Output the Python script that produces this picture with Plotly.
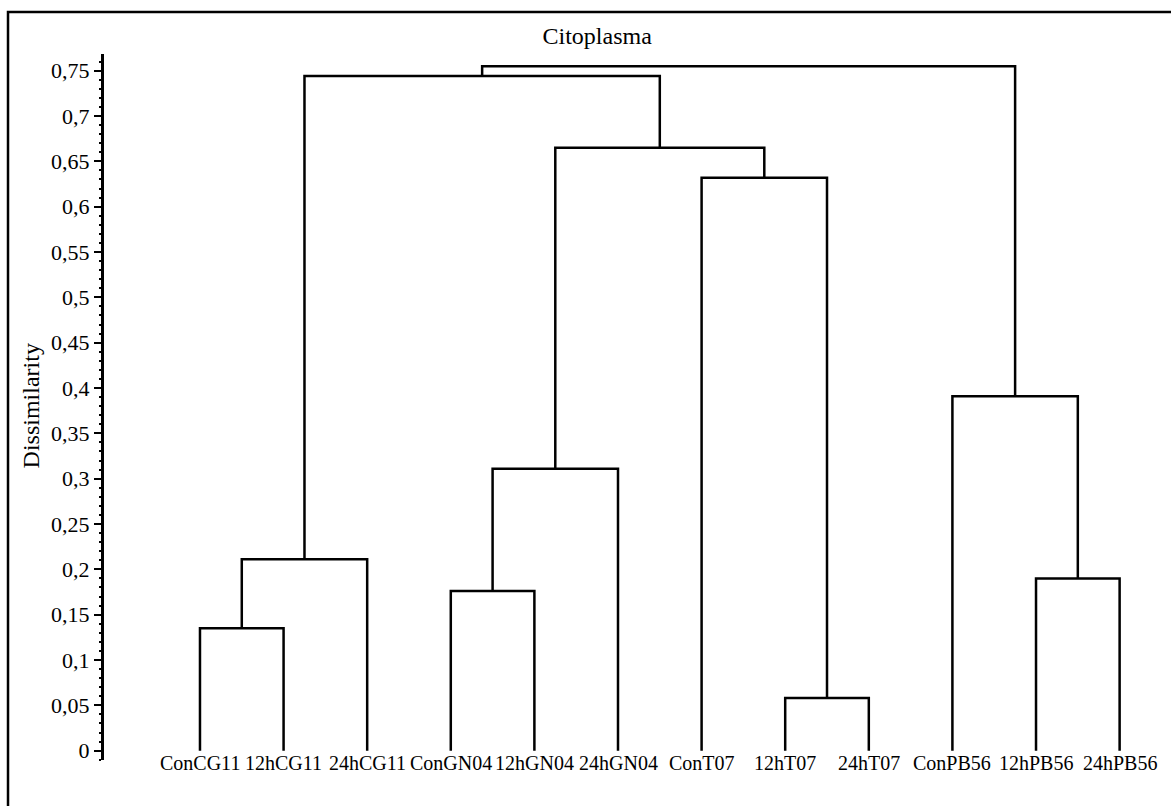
import plotly.graph_objects as go

# Leaves in dendrogram order
leaves = ["ConCG11", "12hCG11", "24hCG11", "ConGN04", "12hGN04", "24hGN04",
          "ConT07", "12hT07", "24hT07", "ConPB56", "12hPB56", "24hPB56"]

# Agglomeration steps: (left child, right child) with their dissimilarity level.
# Indices < 12 are leaves; index 12 + k is the cluster formed at step k.
merge_left = [0, 12, 3, 14, 7, 6, 15, 13, 10, 9, 19]
merge_right = [1, 2, 4, 5, 8, 16, 17, 18, 11, 20, 21]
merge_height = [0.135, 0.211, 0.176, 0.311, 0.058, 0.632, 0.665, 0.744, 0.190, 0.391, 0.755]

# Y-axis ticks
tick_vals = [0, 0.05, 0.1, 0.15, 0.2, 0.25, 0.3, 0.35, 0.4, 0.45, 0.5, 0.55, 0.6, 0.65, 0.7, 0.75]
tick_text = ["0", "0,05", "0,1", "0,15", "0,2", "0,25", "0,3", "0,35", "0,4", "0,45",
             "0,5", "0,55", "0,6", "0,65", "0,7", "0,75"]

FONT = "Liberation Serif"
n = len(leaves)

# Node positions: leaves at their order index, clusters at the midpoint of children
pos = {i: float(i) for i in range(n)}
lev = {i: 0.0 for i in range(n)}
xs, ys = [], []
for k, (a, b, h) in enumerate(zip(merge_left, merge_right, merge_height)):
    xs += [pos[a], pos[a], pos[b], pos[b], None]
    ys += [lev[a], h, h, lev[b], None]
    pos[n + k] = (pos[a] + pos[b]) / 2
    lev[n + k] = h

fig = go.Figure()
fig.add_trace(go.Scatter(x=xs, y=ys, mode="lines",
                         line=dict(color="black", width=2.5),
                         hoverinfo="skip", showlegend=False))

# Leaf labels under each branch
for i, name in enumerate(leaves):
    fig.add_annotation(x=i, y=0, xref="x", yref="y", text=name, showarrow=False,
                       yanchor="top", xanchor="center", yshift=1,
                       font=dict(family=FONT, size=20, color="black"))

# Axis title
fig.add_annotation(x=-0.069, y=0.501, xref="paper", yref="paper", text="Dissimilarity",
                   textangle=-90, showarrow=False, xanchor="center", yanchor="middle",
                   font=dict(family=FONT, size=24, color="black"))

# Outer frame
fig.add_shape(type="rect", xref="paper", yref="paper",
              x0=-0.0909, x1=1.3, y0=-0.5, y1=1.0595,
              line=dict(color="black", width=2.5), layer="below")

fig.update_layout(
    width=1171, height=806,
    margin=dict(l=104, r=11, t=54, b=46),
    paper_bgcolor="white", plot_bgcolor="white",
    title=dict(text="Citoplasma", x=0.467, xref="paper", y=1 - 36 / 806,
               yanchor="middle", xanchor="center",
               font=dict(family=FONT, size=24, color="black")),
    xaxis=dict(range=[-1.148, 11.483], showticklabels=False, showgrid=False,
               zeroline=False, showline=False, ticks=""),
    yaxis=dict(range=[-0.0103, 0.7684], tickvals=tick_vals, ticktext=tick_text,
               showgrid=False, zeroline=False, showline=True, linecolor="black",
               linewidth=3, ticks="outside", ticklen=7, tickwidth=2, tickcolor="black",
               tickfont=dict(family=FONT, size=22, color="black"),
               minor=dict(dtick=0.01, tick0=0, ticks="outside", ticklen=2,
                          tickwidth=2, tickcolor="black")),
    showlegend=False,
)

fig.write_html("out.html")
